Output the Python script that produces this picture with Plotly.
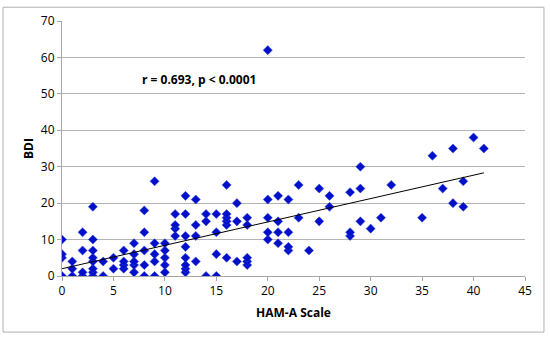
import plotly.graph_objects as go

# HAM-A score (x) and BDI score (y) for each subject
ham_a = [0, 0, 0, 0,
         1, 1, 1,
         2, 2, 2, 2,
         3, 3, 3, 3, 3, 3, 3, 3,
         4, 4,
         5, 5,
         6, 6, 6, 6,
         7, 7, 7, 7, 7,
         8, 8, 8, 8, 8,
         9, 9, 9, 9, 9,
         10, 10, 10, 10, 10,
         11, 11, 11, 11,
         12, 12, 12, 12, 12, 12, 12, 12,
         13, 13, 13, 13,
         14, 14, 14,
         15, 15, 15, 15,
         16, 16, 16, 16, 16, 16,
         17, 17, 17,
         18, 18, 18, 18, 18,
         20, 20, 20, 20, 20,
         21, 21, 21, 21,
         22, 22, 22, 22,
         23, 23,
         24,
         25, 25,
         26, 26,
         28, 28, 28,
         29, 29, 29,
         30, 31, 32, 35, 36, 37,
         38, 38,
         39, 39,
         40, 41]
bdi = [0, 5, 6, 10,
       0, 2, 4,
       0, 1, 7, 12,
       0, 1, 2, 4, 5, 7, 10, 19,
       0, 4,
       2, 5,
       2, 3, 4, 7,
       1, 3, 4, 6, 9,
       0, 3, 7, 12, 18,
       0, 4, 6, 9, 26,
       1, 3, 5, 7, 9,
       11, 13, 14, 17,
       1, 2, 3, 5, 8, 11, 17, 22,
       4, 11, 14, 21,
       0, 15, 17,
       0, 6, 12, 17,
       5, 14, 15, 16, 17, 25,
       4, 15, 20,
       3, 4, 5, 14, 16,
       10, 12, 16, 21, 62,
       9, 12, 15, 22,
       7, 8, 12, 21,
       16, 25,
       7,
       15, 24,
       19, 22,
       11, 12, 23,
       15, 24, 30,
       13, 16, 25, 16, 33, 24,
       20, 35,
       19, 26,
       38, 35]

# linear trend line
fit_intercept = 2.0
fit_slope = 0.642

x_ticks = [0, 5, 10, 15, 20, 25, 30, 35, 40, 45]
y_ticks = [0, 10, 20, 30, 40, 50, 60, 70]
stat_label = "r = 0.693, p < 0.0001"
x_title = "HAM-A Scale"
y_title = "BDI"

fit_x = [0, max(ham_a)]
fit_y = [fit_intercept + fit_slope * v for v in fit_x]

font = "Open Sans, Liberation Sans, sans-serif"

fig = go.Figure()
fig.add_trace(go.Scatter(
    x=ham_a, y=bdi, mode="markers",
    marker=dict(symbol="diamond", size=7, color="#0010C8",
                line=dict(width=0.5, color="#3040E0")),
    showlegend=False, hoverinfo="x+y"))
fig.add_trace(go.Scatter(
    x=fit_x, y=fit_y, mode="lines",
    line=dict(color="black", width=1), showlegend=False, hoverinfo="skip"))

fig.add_annotation(x=13.3, y=54, xref="x", yref="y", text="<b>" + stat_label + "</b>",
                   showarrow=False, font=dict(family=font, size=12, color="black"))

# outer frame
fig.add_shape(type="rect", xref="paper", yref="paper",
              x0=-0.1274, x1=1.041, y0=-0.220, y1=1.054,
              line=dict(color="#b0b0b0", width=1), fillcolor="rgba(0,0,0,0)", layer="above")

fig.update_layout(
    width=550, height=339,
    margin=dict(l=62, r=25, t=17, b=63),
    paper_bgcolor="white", plot_bgcolor="white",
    font=dict(family=font, size=12, color="black"),
    xaxis=dict(range=[0, 45], tickvals=x_ticks, showgrid=False, zeroline=False,
               showline=True, linecolor="#a6a6a6", linewidth=1,
               ticks="outside", ticklen=4, tickcolor="#a6a6a6",
               tickfont=dict(size=12),
               title=dict(text="<b>" + x_title + "</b>", font=dict(size=12), standoff=10)),
    yaxis=dict(range=[0, 70], tickvals=y_ticks, showgrid=True, gridcolor="#b3b3b3",
               gridwidth=1, zeroline=False,
               showline=True, linecolor="#a6a6a6", linewidth=1,
               ticks="outside", ticklen=4, tickcolor="#a6a6a6",
               tickfont=dict(size=12),
               title=dict(text="<b>" + y_title + "</b>", font=dict(size=12), standoff=4)),
)

fig.write_html("out.html", config={"displayModeBar": False},
               post_script="document.body.style.margin='0';")
